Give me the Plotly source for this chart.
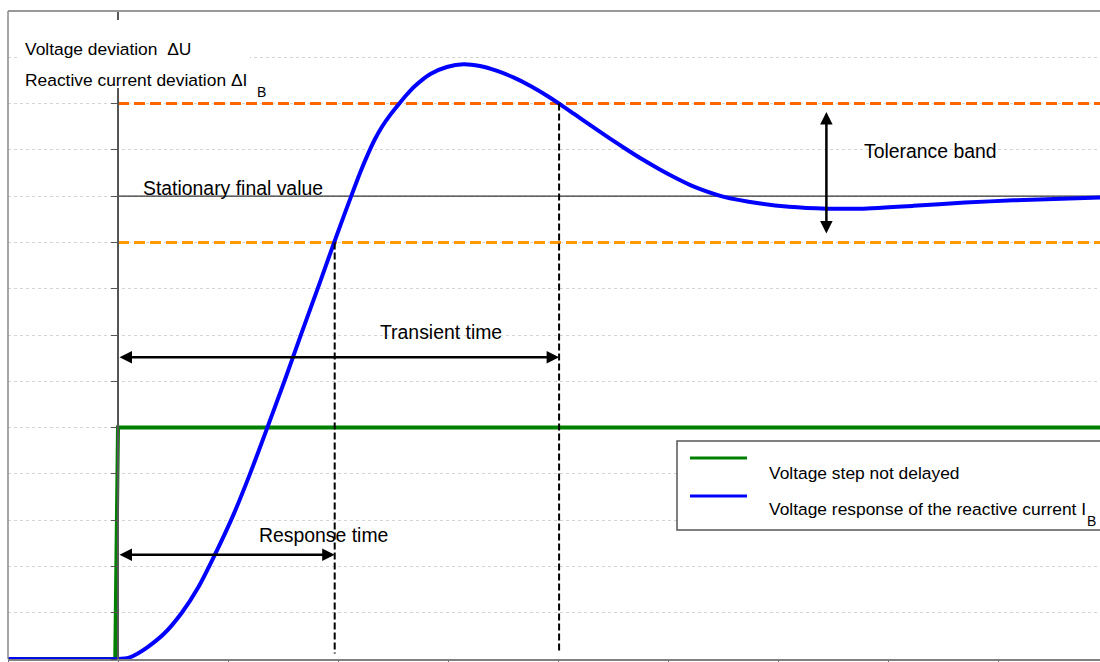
import plotly.graph_objects as go

# ---------------- data ----------------
BLUE_X = [0.0, 1.0, 1.1, 1.18, 1.26, 1.42, 1.58, 1.73, 1.88, 2.05, 2.2, 2.35, 2.52, 2.67,
          2.83, 2.98, 3.12, 3.2, 3.28, 3.34, 3.4, 3.47, 3.55, 3.62, 3.7, 3.84, 3.99,
          4.14, 4.29, 4.44, 4.6, 4.75, 4.9, 5.01, 5.15, 5.29, 5.47, 5.61, 5.77, 5.93,
          6.08, 6.23, 6.5, 6.84, 7.1, 7.44, 7.75, 8.23, 8.7, 9.14, 10.0]
BLUE_Y = [0.0, 0.0, 0.03, 0.12, 0.24, 0.55, 1.0, 1.55, 2.25, 3.12, 4.0, 4.95, 6.05, 7.05,
          8.1, 9.1, 10.0, 10.5, 10.95, 11.25, 11.5, 11.74, 11.98, 12.18, 12.38, 12.64, 12.79,
          12.85, 12.81, 12.71, 12.56, 12.38, 12.17, 12.0, 11.77, 11.54, 11.25, 11.03, 10.79,
          10.57, 10.38, 10.21, 9.99, 9.84, 9.77, 9.73, 9.73, 9.79, 9.86, 9.91, 9.975]
GREEN_X = [0.0, 0.975, 1.0, 10.0]
GREEN_Y = [0.0, 0.0, 5.0, 5.0]
STEP_T = 1.0
END_T = 10.0
FINAL_VALUE = 10
BAND_UPPER = 12
BAND_LOWER = 9
RESPONSE_T = 2.97
TRANSIENT_T = 5.01
DASH_BOTTOM = 0.12
TRANSIENT_ARROW_Y = 6.52
RESPONSE_ARROW_Y = 2.25
TOL_ARROW_X = 7.44
TOL_ARROW_Y = [9.16, 11.82]
X_TICKS = list(range(0, 11))
Y_TICKS = list(range(0, 15))
X_RANGE = [0, 1092 / 110]
Y_RANGE = [0, 14]

FONT = "Liberation Sans, Arial, Helvetica, sans-serif"
BIG = 19.4
SMALL = 17.4
PW = 1092.0  # plot-area width in px


def px(xp):
    """page x pixel -> paper x"""
    return (xp - 8) / PW


fig = go.Figure()

# stationary final value
fig.add_trace(go.Scatter(x=[STEP_T, END_T], y=[FINAL_VALUE, FINAL_VALUE], mode="lines",
                         line=dict(color="#333333", width=1.2), showlegend=False, hoverinfo="skip"))
# tolerance band
fig.add_trace(go.Scatter(x=[STEP_T, END_T], y=[BAND_UPPER, BAND_UPPER], mode="lines",
                         line=dict(color="#FF6600", width=3, dash="11px,5px"),
                         showlegend=False, hoverinfo="skip"))
fig.add_trace(go.Scatter(x=[STEP_T, END_T], y=[BAND_LOWER, BAND_LOWER], mode="lines",
                         line=dict(color="#FF9900", width=3, dash="11px,5px"),
                         showlegend=False, hoverinfo="skip"))
# green step
fig.add_trace(go.Scatter(x=GREEN_X, y=GREEN_Y, mode="lines",
                         line=dict(color="#008000", width=4), showlegend=False, hoverinfo="skip"))
# blue response
fig.add_trace(go.Scatter(x=BLUE_X, y=BLUE_Y, mode="lines",
                         line=dict(color="#0000FF", width=4, shape="spline", smoothing=0.6),
                         showlegend=False, hoverinfo="skip"))
# dashed verticals
fig.add_trace(go.Scatter(x=[RESPONSE_T, RESPONSE_T, None, TRANSIENT_T, TRANSIENT_T],
                         y=[BAND_LOWER, DASH_BOTTOM, None, BAND_UPPER, DASH_BOTTOM], mode="lines",
                         line=dict(color="black", width=2, dash="7px,3px"),
                         showlegend=False, hoverinfo="skip"))

shapes = [
    # frame: top and left
    dict(type="line", xref="paper", yref="paper", x0=0, x1=1.01, y0=1, y1=1,
         line=dict(color="#999999", width=2)),
    dict(type="line", xref="paper", yref="paper", x0=0, x1=0, y0=0, y1=1,
         line=dict(color="#888888", width=1.5)),
    # white box behind top-left label
    dict(type="rect", xref="paper", yref="paper", x0=px(18), x1=px(250), y0=0.8812, y1=0.9861,
         fillcolor="white", line=dict(width=0), layer="above"),
    # legend box
    dict(type="rect", xref="paper", yref="paper", x0=px(677), x1=1.01, y0=0.1991, y1=0.3364,
         fillcolor="white", line=dict(color="#555555", width=1.5), layer="above"),
    dict(type="line", xref="paper", yref="paper", x0=px(690), x1=px(747), y0=0.3102, y1=0.3102,
         line=dict(color="#008000", width=3), layer="above"),
    dict(type="line", xref="paper", yref="paper", x0=px(690), x1=px(747), y0=0.2515, y1=0.2515,
         line=dict(color="#0000FF", width=3), layer="above"),
]


def arrow(x, y, ax, ay):
    return dict(x=x, y=y, ax=ax, ay=ay, xref="x", yref="y", axref="x", ayref="y",
                text="", showarrow=True, arrowhead=2, startarrowhead=2, arrowside="end+start",
                arrowsize=1.0, startarrowsize=1.0, arrowwidth=2.5, arrowcolor="black",
                standoff=0, startstandoff=0)


def label(text, x, y, size, xanchor="left"):
    return dict(text=text, x=x, y=y, xref="x", yref="y", showarrow=False,
                xanchor=xanchor, yanchor="middle", font=dict(family=FONT, size=size, color="black"))


annotations = [
    arrow(TRANSIENT_T, TRANSIENT_ARROW_Y, STEP_T, TRANSIENT_ARROW_Y),
    arrow(RESPONSE_T, RESPONSE_ARROW_Y, STEP_T, RESPONSE_ARROW_Y),
    arrow(TOL_ARROW_X, TOL_ARROW_Y[1], TOL_ARROW_X, TOL_ARROW_Y[0]),
    label("Voltage deviation\u00a0\u00a0\u0394U", 0.136, 13.18, SMALL),
    label("Reactive current deviation \u0394I", 0.136, 12.52, SMALL),
    label("B", 2.245, 12.26, 14),
    label("Stationary final value", 1.205, 10.17, BIG),
    label("Tolerance band", 7.76, 10.97, BIG),
    label("Transient time", 3.94, 7.06, BIG, "center"),
    label("Response time", 2.87, 2.68, BIG, "center"),
    label("Voltage step not delayed", 6.897, 4.02, SMALL),
    label("Voltage response of the reactive current I", 6.897, 3.24, SMALL),
    label("B", 9.79, 2.98, 14),
]

fig.update_layout(
    width=1100, height=662, autosize=False,
    margin=dict(l=8, r=0, t=11, b=3, pad=0),
    paper_bgcolor="white", plot_bgcolor="white",
    showlegend=False,
    shapes=shapes, annotations=annotations,
    xaxis=dict(range=X_RANGE, tickvals=X_TICKS, showticklabels=False, ticks="outside",
               ticklen=3, tickcolor="#666666", showline=True, linecolor="#808080", linewidth=2,
               showgrid=False, zeroline=False, fixedrange=True),
    yaxis=dict(range=Y_RANGE, tickvals=Y_TICKS, showticklabels=False, ticks="outside",
               ticklen=6, tickcolor="#555555", showline=True, linecolor="#555555", linewidth=1.5,
               anchor="free", position=110 / PW, showgrid=True, gridcolor="#d4d4d4",
               griddash="dot", gridwidth=1, zeroline=False, fixedrange=True),
)

fig.write_html(
    "out.html",
    config={"displayModeBar": False},
    post_script="document.body.style.margin='0';"
                "document.documentElement.style.overflow='hidden';"
                "document.body.style.overflow='hidden';",
)
